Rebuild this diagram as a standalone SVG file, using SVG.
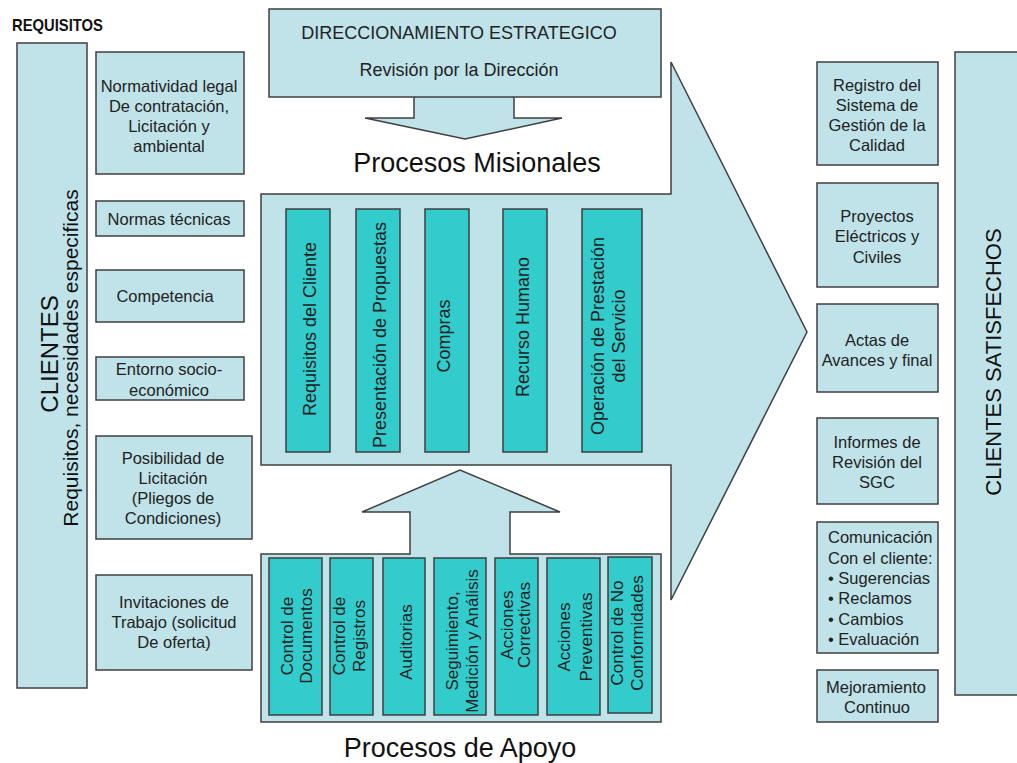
<svg xmlns="http://www.w3.org/2000/svg" width="1017" height="763" viewBox="0 0 1017 763">
<style>
.lb{fill:#bfe3e9;stroke:#3f3f3f;stroke-width:1.5}
.tl{fill:#33cccc;stroke:#3f3f3f;stroke-width:1.5}
.t{font-family:"Liberation Sans",Arial,sans-serif;font-size:16.5px;fill:#222;text-anchor:middle}
.td{font-family:"Liberation Sans",Arial,sans-serif;font-size:18px;fill:#222;text-anchor:middle}
.tv{font-family:"Liberation Sans",Arial,sans-serif;font-size:18px;fill:#222;text-anchor:middle}
.tb{font-family:"Liberation Sans",Arial,sans-serif;font-size:17px;fill:#222;text-anchor:middle}
.big{font-family:"Liberation Sans",Arial,sans-serif;font-size:27px;fill:#111;text-anchor:middle}
</style>
<rect width="1017" height="763" fill="#fff"/>
<text x="12" y="31" font-family="Liberation Sans,Arial,sans-serif" font-weight="bold" font-size="17" textLength="91" lengthAdjust="spacingAndGlyphs" fill="#111">REQUISITOS</text>

<g id="clientes">
<rect class="lb" x="17" y="43" width="70" height="645"/>
<text transform="translate(58,354) rotate(-90)" font-family="Liberation Sans,Arial,sans-serif" font-size="24" text-anchor="middle" fill="#111">CLIENTES</text>
<text transform="translate(78,358) rotate(-90)" font-family="Liberation Sans,Arial,sans-serif" font-size="21" text-anchor="middle" fill="#111">Requisitos, necesidades especificas</text>
</g>

<g id="req-normatividad"><rect class="lb" x="96" y="52" width="148" height="122"/>
<text class="t"><tspan x="169" y="92">Normatividad legal</tspan><tspan x="169" y="112">De contratación,</tspan><tspan x="169" y="132">Licitación y</tspan><tspan x="169" y="152">ambiental</tspan></text></g>
<g id="req-normas"><rect class="lb" x="96" y="201" width="148" height="35"/>
<text class="t" x="169" y="225">Normas técnicas</text></g>
<g id="req-competencia"><rect class="lb" x="96" y="270" width="148" height="52"/>
<text class="t" x="165" y="302">Competencia</text></g>
<g id="req-entorno"><rect class="lb" x="96" y="357" width="148" height="43"/>
<text class="t"><tspan x="169" y="375">Entorno socio-</tspan><tspan x="169" y="396">económico</tspan></text></g>
<g id="req-posibilidad"><rect class="lb" x="96" y="436" width="156" height="103"/>
<text class="t"><tspan x="173" y="464">Posibilidad de</tspan><tspan x="173" y="484">Licitación</tspan><tspan x="173" y="504">(Pliegos de</tspan><tspan x="173" y="524">Condiciones)</tspan></text></g>
<g id="req-invitaciones"><rect class="lb" x="96" y="575" width="156" height="95"/>
<text class="t"><tspan x="174" y="608">Invitaciones de</tspan><tspan x="174" y="628">Trabajo (solicitud</tspan><tspan x="174" y="648">De oferta)</tspan></text></g>

<g id="connectors">
<polygon class="lb" points="261,194 671,194 671,62 807,332 671,600 671,465 261,465"/>
<polygon class="lb" points="414,96 514,96 514,118 562,118 465,139 365,118 414,118"/>
</g>

<g id="direccionamiento"><rect class="lb" x="269" y="9" width="392" height="88"/>
<text class="td" x="459" y="39">DIRECCIONAMIENTO ESTRATEGICO</text>
<text class="td" x="459" y="76">Revisión por la Dirección</text></g>

<text class="big" x="477" y="172">Procesos Misionales</text>

<g id="misionales">
<g id="m-requisitos"><rect class="tl" x="286" y="209" width="44" height="243"/>
<text class="tv" transform="translate(316,329) rotate(-90)">Requisitos del Cliente</text></g>
<g id="m-presentacion"><rect class="tl" x="356" y="209" width="44" height="243"/>
<text class="tv" transform="translate(386,335) rotate(-90)">Presentación de Propuestas</text></g>
<g id="m-compras"><rect class="tl" x="425" y="209" width="44" height="243"/>
<text class="tv" transform="translate(450,336) rotate(-90)">Compras</text></g>
<g id="m-recurso"><rect class="tl" x="503" y="209" width="44" height="243"/>
<text class="tv" transform="translate(529,327) rotate(-90)">Recurso Humano</text></g>
<g id="m-operacion"><rect class="tl" x="582" y="209" width="60" height="243"/>
<text class="tv" transform="translate(604,336) rotate(-90)">Operación de Prestación<tspan x="0" dy="21">del Servicio</tspan></text></g>
</g>

<g id="apoyo">
<polygon points="261,554 410,554 410,512 362,512 460,470 560,512 510,512 510,554 661,554 661,722 261,722" class="lb"/>
<g id="a-documentos"><rect class="tl" x="269" y="558" width="53" height="157"/>
<text class="tb" transform="translate(293,636) rotate(-90)">Control de<tspan x="0" dy="19">Documentos</tspan></text></g>
<g id="a-registros"><rect class="tl" x="330" y="558" width="43" height="157"/>
<text class="tb" transform="translate(345,636) rotate(-90)">Control de<tspan x="0" dy="20">Registros</tspan></text></g>
<g id="a-auditorias"><rect class="tl" x="383" y="558" width="42" height="157"/>
<text class="tb" transform="translate(412,642) rotate(-90)">Auditorias</text></g>
<g id="a-seguimiento"><rect class="tl" x="434" y="558" width="52" height="157"/>
<text class="tb" transform="translate(458,641) rotate(-90)">Seguimiento,<tspan x="0" dy="20">Medición y Análisis</tspan></text></g>
<g id="a-correctivas"><rect class="tl" x="495" y="558" width="43" height="157"/>
<text class="tb" transform="translate(513,625) rotate(-90)">Acciones<tspan x="0" dy="17">Correctivas</tspan></text></g>
<g id="a-preventivas"><rect class="tl" x="547" y="558" width="53" height="157"/>
<text class="tb" transform="translate(570,637) rotate(-90)">Acciones<tspan x="0" dy="22">Preventivas</tspan></text></g>
<g id="a-noconformidades"><rect class="tl" x="608" y="557" width="44" height="156"/>
<text class="tb" transform="translate(623,633) rotate(-90)">Control de No<tspan x="0" dy="20">Conformidades</tspan></text></g>
</g>

<text class="big" x="460" y="757">Procesos de Apoyo</text>

<g id="res-registro"><rect class="lb" x="817" y="62" width="121" height="103"/>
<text class="t"><tspan x="877" y="91">Registro del</tspan><tspan x="877" y="111">Sistema de</tspan><tspan x="877" y="131">Gestión de la</tspan><tspan x="877" y="151">Calidad</tspan></text></g>
<g id="res-proyectos"><rect class="lb" x="817" y="183" width="121" height="104"/>
<text class="t"><tspan x="877" y="222">Proyectos</tspan><tspan x="877" y="242">Eléctricos y</tspan><tspan x="877" y="263">Civiles</tspan></text></g>
<g id="res-actas"><rect class="lb" x="817" y="304" width="121" height="88"/>
<text class="t"><tspan x="877" y="346">Actas de</tspan><tspan x="877" y="366">Avances y final</tspan></text></g>
<g id="res-informes"><rect class="lb" x="817" y="418" width="121" height="86"/>
<text class="t"><tspan x="877" y="448">Informes de</tspan><tspan x="877" y="468">Revisión del</tspan><tspan x="877" y="488">SGC</tspan></text></g>
<g id="res-comunicacion"><rect class="lb" x="817" y="522" width="121" height="131"/>
<text class="t" style="text-anchor:start"><tspan x="828" y="543">Comunicación</tspan><tspan x="828" y="564">Con el cliente:</tspan><tspan x="828" y="584">• Sugerencias</tspan><tspan x="828" y="604">• Reclamos</tspan><tspan x="828" y="625">• Cambios</tspan><tspan x="828" y="645">• Evaluación</tspan></text></g>
<g id="res-mejoramiento"><rect class="lb" x="817" y="670" width="121" height="52"/>
<text class="t"><tspan x="876" y="693">Mejoramiento</tspan><tspan x="877" y="713">Continuo</tspan></text></g>

<g id="clientes-satisfechos">
<rect class="lb" x="955" y="52" width="75" height="643"/>
<text transform="translate(1001,362) rotate(-90)" font-family="Liberation Sans,Arial,sans-serif" font-size="22" text-anchor="middle" fill="#111">CLIENTES SATISFECHOS</text>
</g>
</svg>
